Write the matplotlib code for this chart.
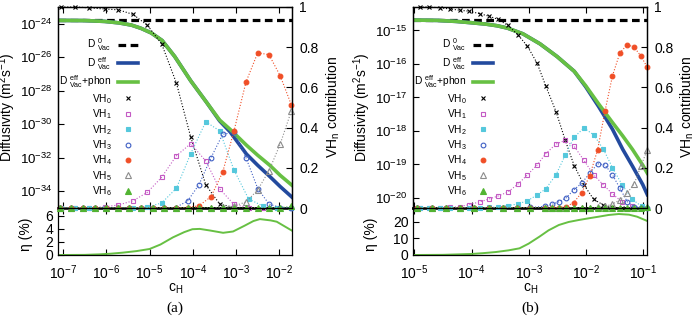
import numpy as np
import matplotlib
matplotlib.use('Agg')
import matplotlib.pyplot as plt
from matplotlib.lines import Line2D

plt.rcParams['font.family'] = 'Liberation Sans'
plt.rcParams['mathtext.fontset'] = 'custom'
plt.rcParams['mathtext.rm'] = 'Liberation Sans'
plt.rcParams['mathtext.it'] = 'Liberation Sans:italic'
plt.rcParams['mathtext.default'] = 'regular'
plt.rcParams['font.size'] = 10
plt.rcParams['axes.linewidth'] = 0.9

# ---------------- panel (a) data (log10 of c_H, log10 of D) ----------------
a_d0 = -23.78
a_d_logc = [-7.11, -6.5, -6.04, -5.7, -5.42, -5.2, -4.96, -4.71, -4.42, -4.05,
            -3.68, -3.38, -3.14, -2.76, -2.5, -2.22, -1.98, -1.70]
a_d_eff = [-23.8, -23.81, -23.86, -23.95, -24.08, -24.27, -24.55, -25.0, -25.95, -27.4,
           -28.7, -29.8, -30.45, -31.78, -32.45, -33.12, -33.72, -34.37]
a_d_phon = [-23.8, -23.81, -23.86, -23.95, -24.08, -24.27, -24.55, -25.0, -25.95, -27.4,
            -28.7, -29.75, -30.3, -31.25, -31.85, -32.45, -33.05, -33.66]

a_eta_logc = [-7.11, -6.5, -6.16, -5.9, -5.62, -5.3, -5.0, -4.75, -4.46, -4.2,
              -4.01, -3.84, -3.6, -3.3, -3.07, -2.8, -2.6, -2.45, -2.2, -2.06, -1.70]
a_eta = [0, 0.02, 0.1, 0.2, 0.36, 0.6, 0.92, 1.6, 2.7, 3.5,
         3.95, 4.0, 3.75, 3.4, 3.6, 4.5, 5.2, 5.5, 5.3, 5.1, 3.7]

a_g1 = [-7.04, -6.72, -6.39, -6.04, -5.72, -5.38, -5.05, -4.72, -4.38, -4.05,
        -3.70, -3.38, -3.05, -2.71, -2.38, -2.05, -1.72]
a_vh0 = [1.0, 1.0, 0.996, 0.99, 0.986, 0.963, 0.909, 0.816, 0.622, 0.354,
         0.115, 0.02, 0.003, 0.0, 0.0, 0.0, 0.0]
a_vh1 = [0.0, 0.0, 0.002, 0.006, 0.015, 0.036, 0.078, 0.153, 0.26, 0.32,
         0.234, 0.095, 0.018, 0.002, 0.0, 0.0, 0.0]
a_vh2 = [0.0, 0.0, 0.0, 0.0, 0.0, 0.001, 0.005, 0.025, 0.098, 0.27,
         0.429, 0.384, 0.19, 0.045, 0.01, 0.001, 0.0]
a_g2 = [-7.08, -6.81, -6.54, -6.27, -6.0, -5.73, -5.47, -5.2, -4.93, -4.66,
        -4.40, -4.12, -3.86, -3.58, -3.31, -3.05, -2.77, -2.50, -2.24, -1.98, -1.72]
a_vh3 = [0, 0, 0, 0, 0, 0, 0, 0, 0, 0,
         0.002, 0.035, 0.115, 0.25, 0.367, 0.376, 0.25, 0.097, 0.02, 0.002, 0.0]
a_vh4 = [0, 0, 0, 0, 0, 0, 0, 0, 0, 0,
         0, 0.002, 0.011, 0.056, 0.178, 0.382, 0.627, 0.772, 0.763, 0.658, 0.512]
a_vh5 = [0, 0, 0, 0, 0, 0, 0, 0, 0, 0,
         0, 0, 0, 0, 0.003, 0.01, 0.03, 0.09, 0.185, 0.318, 0.484]
a_vh6 = [0, 0, 0, 0, 0, 0, 0, 0, 0, 0,
         0, 0, 0, 0, 0, 0, 0, 0, 0, 0.002, 0.008]

# ---------------- panel (b) data ----------------
b_d0 = -14.69
b_d_logc = [-5.02, -4.6, -4.27, -4.0, -3.75, -3.55, -3.37, -3.1, -2.8, -2.5,
            -2.2, -2.0, -1.77, -1.53, -1.35, -1.18, -1.0, -0.92]
b_d_eff = [-14.69, -14.70, -14.73, -14.77, -14.81, -14.86, -14.93, -15.1, -15.4, -15.78,
           -16.22, -16.68, -17.28, -17.95, -18.55, -19.05, -19.6, -19.9]
b_d_phon = [-14.69, -14.70, -14.73, -14.77, -14.81, -14.86, -14.93, -15.1, -15.4, -15.78,
            -16.22, -16.65, -17.2, -17.75, -18.15, -18.55, -19.02, -19.26]

b_eta_logc = [-5.02, -4.5, -4.01, -3.8, -3.57, -3.35, -3.16, -3.0, -2.81, -2.65,
              -2.47, -2.3, -2.12, -1.95, -1.77, -1.6, -1.42, -1.24, -1.1, -0.92]
b_eta = [0, 0.1, 0.6, 1.1, 1.8, 2.8, 4.0, 6.8, 11.0, 14.8,
         18.0, 19.8, 21.0, 22.0, 23.0, 24.0, 24.6, 24.2, 23.0, 20.4]

b_g1 = [-4.91, -4.74, -4.55, -4.37, -4.21, -4.04, -3.86, -3.69, -3.53, -3.36,
        -3.19, -3.02, -2.85, -2.70, -2.52, -2.36, -2.20, -2.03, -1.86, -1.69,
        -1.53, -1.36, -1.19, -1.02]
b_vh0 = [1.0, 1.0, 0.996, 0.99, 0.984, 0.979, 0.967, 0.954, 0.938, 0.908,
         0.863, 0.805, 0.72, 0.608, 0.48, 0.339, 0.21, 0.115, 0.043, 0.015,
         0.003, 0.0, 0.0, 0.0]
b_vh1 = [0.0, 0.0, 0.001, 0.003, 0.007, 0.017, 0.03, 0.045, 0.06, 0.08,
         0.118, 0.165, 0.214, 0.27, 0.318, 0.336, 0.306, 0.237, 0.165, 0.115,
         0.07, 0.03, 0.008, 0.002]
b_vh2 = [0, 0, 0, 0, 0, 0, 0.001, 0.003, 0.005, 0.012,
         0.02, 0.036, 0.065, 0.095, 0.165, 0.262, 0.353, 0.398, 0.364, 0.293,
         0.2, 0.115, 0.045, 0.008]
b_g2 = [-4.95, -4.7, -4.45, -4.2, -3.95, -3.7, -3.45, -3.2, -2.97, -2.72,
        -2.59, -2.47, -2.34, -2.21, -2.07, -1.93, -1.79, -1.66, -1.53, -1.40,
        -1.27, -1.15, -1.03, -0.92]
b_vh3 = [0, 0, 0, 0, 0, 0, 0, 0, 0.003, 0.008,
         0.018, 0.031, 0.051, 0.09, 0.123, 0.173, 0.22, 0.214, 0.165, 0.098,
         0.031, 0.007, 0.001, 0.0]
b_vh4 = [0, 0, 0, 0, 0, 0, 0, 0, 0, 0,
         0, 0.002, 0.007, 0.027, 0.076, 0.16, 0.29, 0.484, 0.658, 0.772,
         0.813, 0.80, 0.755, 0.70]
b_vh5 = [0, 0, 0, 0, 0, 0, 0, 0, 0, 0,
         0, 0, 0, 0, 0, 0, 0.003, 0.008, 0.02, 0.04,
         0.075, 0.12, 0.21, 0.29]
b_vh6 = [0, 0, 0, 0, 0, 0, 0, 0, 0, 0,
         0, 0, 0, 0, 0, 0, 0, 0, 0, 0,
         0, 0, 0.002, 0.005]

vh_labels = ['VH$_0$', 'VH$_1$', 'VH$_2$', 'VH$_3$', 'VH$_4$', 'VH$_5$', 'VH$_6$']
vh_colors = ['black', '#c45ac4', '#55c8dc', '#3f5fc4', '#f04e26', '#8c8c8c', '#52b432']
vh_markers = ['x', 's', 's', 'o', 'o', '^', '^']
vh_filled = [True, False, True, False, True, False, True]
vh_ms = [3.4, 3.4, 3.1, 3.4, 3.4, 3.8, 3.8]

c_eff = '#234a9e'
c_phon = '#67c043'

W, H = 695, 319
fig = plt.figure(figsize=(W / 100, H / 100), dpi=100)

panels = [
    dict(tag='(a)', left=58.3, right=292.3, xlim=(10**-7.11, 10**-1.70),
         ylim=(1e-35, 1e-23), yticks=[1e-24, 1e-26, 1e-28, 1e-30, 1e-32, 1e-34],
         xticks=[1e-7, 1e-6, 1e-5, 1e-4, 1e-3, 1e-2],
         eta_lim=(0, 7.2), eta_ticks=[0, 2, 4, 6],
         d0=a_d0, d_logc=a_d_logc, d_eff=a_d_eff, d_phon=a_d_phon,
         eta_logc=a_eta_logc, eta=a_eta,
         vh=[(a_g1, a_vh0), (a_g1, a_vh1), (a_g1, a_vh2), (a_g2, a_vh3),
             (a_g2, a_vh4), (a_g2, a_vh5), (a_g2, a_vh6)],
         dlab_x=-0.172, elab_x=-0.108, vlab_x=1.14),
    dict(tag='(b)', left=413.3, right=647.3, xlim=(10**-5.02, 10**-0.92),
         ylim=(10**-20.3, 10**-14.3), yticks=[1e-15, 1e-16, 1e-17, 1e-18, 1e-19, 1e-20],
         xticks=[1e-5, 1e-4, 1e-3, 1e-2, 1e-1],
         eta_lim=(0, 28.2), eta_ticks=[0, 10, 20],
         d0=b_d0, d_logc=b_d_logc, d_eff=b_d_eff, d_phon=b_d_phon,
         eta_logc=b_eta_logc, eta=b_eta,
         vh=[(b_g1, b_vh0), (b_g1, b_vh1), (b_g1, b_vh2), (b_g2, b_vh3),
             (b_g2, b_vh4), (b_g2, b_vh5), (b_g2, b_vh6)],
         dlab_x=-0.172, elab_x=-0.15, vlab_x=1.132),
]

top_px, mid_px, bot_px = 7, 208, 255

for p in panels:
    x0 = p['left'] / W
    w = (p['right'] - p['left']) / W
    ax = fig.add_axes([x0, (H - mid_px) / H, w, (mid_px - top_px) / H])
    ax_e = fig.add_axes([x0, (H - bot_px) / H, w, (bot_px - mid_px) / H], sharex=ax)
    ax2 = ax.twinx()

    # diffusivities
    d_c = 10 ** np.array(p['d_logc'])
    ax.plot(p['xlim'], [10 ** p['d0']] * 2, color='black', lw=2.3, dashes=(2.4, 1.4))
    ax.plot(d_c, 10 ** np.array(p['d_eff']), color=c_eff, lw=2.6)
    ax.plot(d_c, 10 ** np.array(p['d_phon']), color=c_phon, lw=2.6)
    ax.set_xscale('log')
    ax.set_yscale('log')
    ax.set_xlim(p['xlim'])
    ax.set_ylim(p['ylim'])
    ax.set_yticks(p['yticks'])
    ax.yaxis.set_minor_locator(matplotlib.ticker.NullLocator())
    ax.xaxis.set_minor_locator(matplotlib.ticker.NullLocator())
    ax.tick_params(axis='y', direction='in', length=4, pad=4, labelsize=9.6)
    ax.tick_params(axis='x', direction='in', length=4, top=True, bottom=True,
                   labelbottom=False)
    ax.spines['bottom'].set_linewidth(1.8)
    ax.set_ylabel('Diffusivity (m$^2$s$^{-1}$)', fontsize=10)
    ax.yaxis.set_label_coords(p['dlab_x'], 0.5)

    # VH_n contributions
    for (lc, v), lab, col, mk, fil, ms in zip(p['vh'], vh_labels, vh_colors,
                                             vh_markers, vh_filled, vh_ms):
        ax2.plot(10 ** np.array(lc), v, ls=':', lw=0.8, color=col, marker=mk,
                 ms=ms, mew=0.8, mec=col, mfc=col if fil else 'none', clip_on=False)
    ax2.set_ylim(0, 1)
    ax2.set_yticks([0, 0.2, 0.4, 0.6, 0.8, 1])
    ax2.set_yticklabels(['0', '0.2', '0.4', '0.6', '0.8', '1'])
    ax2.tick_params(axis='y', direction='in', length=4, pad=5, labelsize=10)
    ax2.set_ylabel('VH$_n$ contribution', fontsize=10)
    ax2.yaxis.set_label_coords(p['vlab_x'], 0.5)

    # legend
    handles = [Line2D([], [], color='black', lw=2.3, dashes=(2.4, 1.4)),
               Line2D([], [], color=c_eff, lw=2.6),
               Line2D([], [], color=c_phon, lw=2.6)]
    for col, mk, fil, ms in zip(vh_colors, vh_markers, vh_filled, vh_ms):
        handles.append(Line2D([], [], ls='none', color=col, marker=mk, ms=ms,
                              mew=0.8, mec=col, mfc=col if fil else 'none'))
    labels = ['D $^{0}_{Vac}$', 'D $^{eff}_{Vac}$', 'D $^{eff}_{Vac}$+phon'] + vh_labels
    ax2.legend(handles, labels, loc='upper right', bbox_to_anchor=(0.362, 0.878),
               frameon=False, markerfirst=False, fontsize=7.3, handlelength=2.0,
               handletextpad=0.6, labelspacing=0.16, borderpad=0, numpoints=1)

    # efficiency panel
    ax_e.plot(10 ** np.array(p['eta_logc']), p['eta'], color=c_phon, lw=1.4)
    ax_e.set_ylim(p['eta_lim'])
    ax_e.set_yticks(p['eta_ticks'])
    ax_e.set_xticks(p['xticks'])
    ax_e.xaxis.set_minor_locator(matplotlib.ticker.NullLocator())
    ax_e.xaxis.set_major_formatter(matplotlib.ticker.LogFormatterMathtext())
    ax_e.tick_params(direction='in', length=4, labelsize=10, top=True)
    ax_e.tick_params(axis='x', pad=6)
    ax_e.spines['top'].set_linewidth(1.8)
    ax_e.set_ylabel('η (%)', fontsize=10)
    ax_e.yaxis.set_label_coords(p['elab_x'], 0.45)
    ax_e.set_xlabel('c$_H$', fontsize=10)
    ax_e.xaxis.set_label_coords(0.5, -0.56)

    fig.text((p['left'] + p['right']) / 2 / W, 1 - 308 / H, p['tag'],
             family='Liberation Serif', fontsize=11, ha='center', va='center')

fig.savefig('out.png', dpi=100)
